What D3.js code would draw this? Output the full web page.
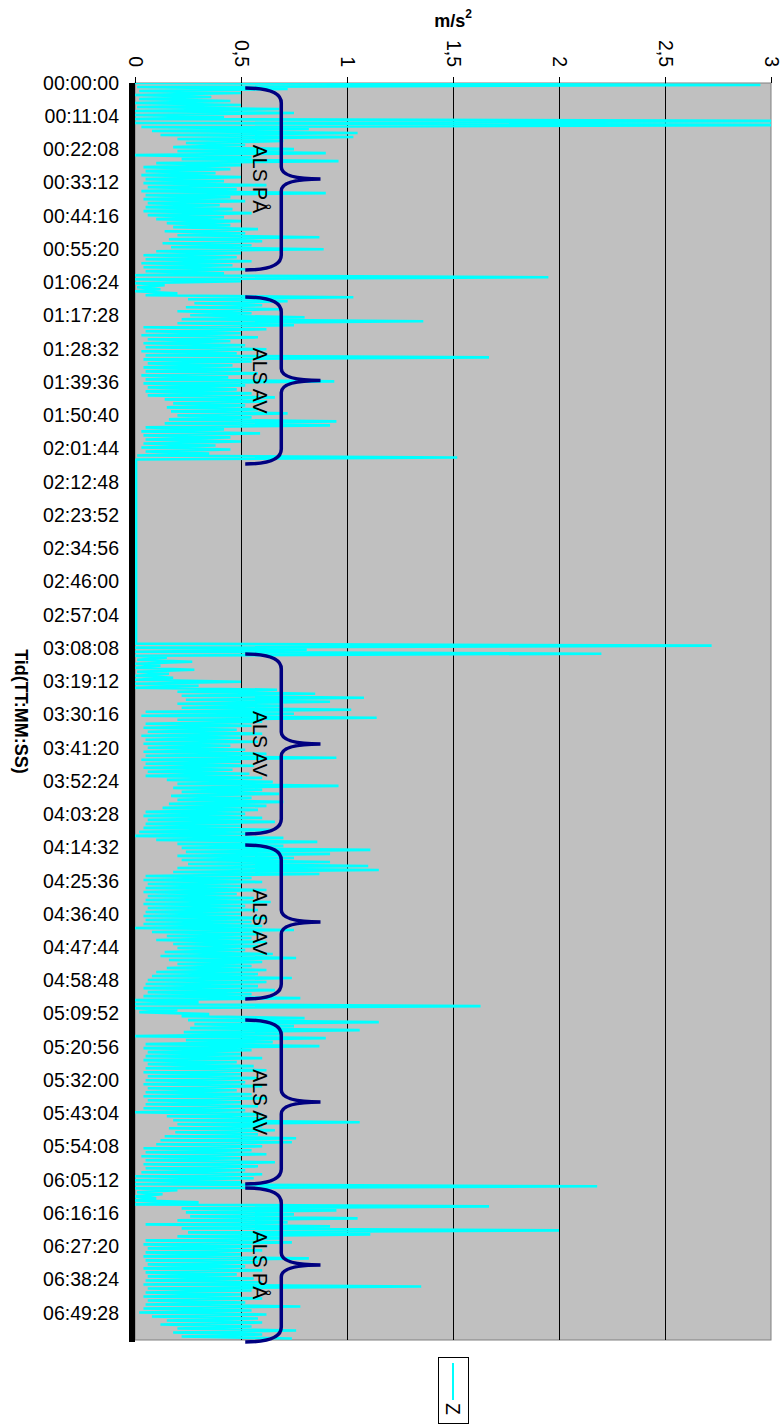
<!DOCTYPE html>
<html>
<head>
<meta charset="utf-8">
<script src="https://cdn.jsdelivr.net/npm/d3@7"></script>
<style>
  body { margin: 0; background: #fff; }
  svg { display: block; font-family: "Liberation Sans", Arial, sans-serif; }
</style>
</head>
<body>
<div id="chart"></div>
<script>
// Z readings in m/s2, one every sampleSeconds (low / high alternate)
const sampleSeconds = 40;
const zValues = [
  // 00:00 - 00:12
  0.0,2.95, 0.01,0.72, 0.02,0.5, 0.0,0.36, 0.02,0.45, 0.0,0.5, 0.01,0.68, 0.0,0.75, 0.0,0.42,
  0.0,3.2, 0.0,3.2, 0.03,0.82, 0.08,1.05, 0.12,1.03, 0.2,0.7, 0.24,0.52, 0.18,0.75, 0.2,0.9, 0.0,0.55, 0.22,0.96, 0.1,0.5,
  0.04,0.45, 0.05,0.38, 0.03,0.5, 0.05,0.42, 0.04,0.62, 0.06,0.48, 0.03,0.9, 0.05,0.45, 0.04,0.52, 0.06,0.4, 0.05,0.46, 0.04,0.55, 0.06,0.42,
  0.1,0.5, 0.15,0.45, 0.18,0.58, 0.14,0.52, 0.2,0.87, 0.16,0.6, 0.13,0.55, 0.17,0.89, 0.1,0.5,
  0.04,0.48, 0.05,0.55, 0.03,0.46, 0.04,0.52, 0.05,0.42, 0.0,1.95,
  0.0,0.5, 0.0,0.14, 0.01,0.12, 0.0,0.2, 0.05,1.03,
  // 01:10 - 02:10
  0.25,0.72, 0.28,0.6, 0.24,0.68, 0.2,0.55, 0.26,0.8, 0.22,1.36, 0.2,0.75,
  0.04,0.62, 0.05,0.5, 0.03,0.58, 0.06,0.45, 0.04,0.52, 0.05,0.62, 0.03,0.48, 0.05,1.67, 0.04,0.55,
  0.06,0.46, 0.04,0.5, 0.05,0.58, 0.03,0.44, 0.05,0.94, 0.04,0.52, 0.06,0.48, 0.05,0.55,
  0.06,0.66, 0.14,0.62, 0.18,0.52, 0.15,0.58, 0.17,0.72, 0.2,0.55, 0.16,0.95, 0.14,0.92,
  0.05,0.42, 0.03,0.59, 0.04,0.45, 0.05,0.5, 0.04,0.38, 0.03,0.45, 0.05,0.35, 0.01,1.52,
  // standstill
  0.005,0.005, 0.005,0.005, 0.005,0.005, 0.005,0.005, 0.005,0.005, 0.005,0.005, 0.005,0.005, 0.005,0.005,
  0.005,0.005, 0.005,0.005, 0.005,0.005, 0.005,0.005, 0.005,0.005, 0.005,0.005, 0.005,0.005, 0.005,0.005,
  0.005,0.005, 0.005,0.005, 0.005,0.005, 0.005,0.005, 0.005,0.005, 0.005,0.005, 0.005,0.005, 0.005,0.005,
  0.005,0.005, 0.005,0.005, 0.005,0.005, 0.005,0.005, 0.005,0.005, 0.005,0.005, 0.005,0.005, 0.005,0.005,
  0.005,0.005, 0.005,0.005, 0.005,0.005, 0.005,0.005, 0.005,0.005, 0.005,0.005, 0.005,0.005, 0.005,0.005,
  0.005,0.005, 0.005,0.005, 0.005,0.005, 0.005,0.005, 0.005,0.005, 0.005,0.005,
  // 03:08 -
  0.0,2.72, 0.0,0.81, 0.0,2.2,
  0.0,0.15, 0.01,0.27, 0.0,0.12, 0.0,0.28, 0.01,0.16, 0.0,0.18, 0.0,0.5, 0.0,0.3, 0.0,0.67,
  0.2,0.85, 0.22,1.08, 0.24,0.92, 0.2,0.7, 0.22,1.02, 0.05,0.75, 0.03,1.14, 0.2,0.6,
  0.05,0.55, 0.04,0.48, 0.06,0.6, 0.03,0.5, 0.05,0.58, 0.04,0.45, 0.06,0.52, 0.04,0.62, 0.05,0.95, 0.03,0.5, 0.05,0.56, 0.04,0.46, 0.06,0.54, 0.05,0.6,
  0.15,0.65, 0.2,0.96, 0.18,0.6, 0.22,0.68, 0.17,0.55, 0.2,0.7, 0.16,0.62, 0.13,0.58,
  0.05,0.52, 0.04,0.6, 0.06,0.66, 0.05,0.5, 0.04,0.64, 0.02,0.55, 0.0,0.7,
  // 04:12 -
  0.1,0.86, 0.2,0.7, 0.22,1.11, 0.24,0.92, 0.2,0.75, 0.22,0.92, 0.25,1.1, 0.2,1.15, 0.18,0.87,
  0.05,0.55, 0.04,0.6, 0.06,0.5, 0.05,0.62, 0.04,0.48, 0.06,0.56, 0.05,0.64, 0.04,0.52, 0.06,0.58, 0.05,0.5, 0.04,0.62, 0.05,0.55, 0.04,0.6, 0.0,0.75,
  0.08,0.6, 0.15,0.55, 0.1,0.62, 0.18,0.58, 0.2,0.52, 0.14,0.65, 0.12,0.76, 0.16,0.6, 0.2,0.55, 0.15,0.62, 0.1,0.58, 0.08,0.74, 0.06,0.62,
  0.05,0.58, 0.04,0.66, 0.06,0.55, 0.04,0.78,
  0.0,0.3, 0.0,1.63, 0.0,0.2, 0.02,0.35,
  // 05:10 -
  0.22,0.8, 0.25,1.15, 0.28,0.75, 0.26,1.06, 0.23,0.7, 0.0,0.9, 0.24,0.65,
  0.05,0.87, 0.04,0.55, 0.06,0.5, 0.05,0.6, 0.04,0.48, 0.06,0.56, 0.05,0.62, 0.04,0.5, 0.06,0.58,
  0.05,0.52, 0.04,0.6, 0.06,0.48, 0.05,0.55, 0.04,0.62, 0.06,0.5, 0.05,0.58, 0.04,0.52, 0.0,0.6,
  0.15,0.62, 0.18,1.06, 0.2,0.6, 0.16,0.66, 0.19,0.58, 0.14,0.76, 0.12,0.74, 0.1,0.6,
  0.04,0.55, 0.05,0.62, 0.03,0.5, 0.05,0.66, 0.04,0.58, 0.05,0.52, 0.03,0.6, 0.0,0.56,
  0.0,0.5, 0.0,2.18, 0.0,0.2, 0.01,0.13, 0.0,0.1, 0.0,0.3, 0.0,1.67,
  // 06:12 -
  0.22,0.95, 0.24,0.75, 0.26,1.05, 0.2,0.72, 0.05,0.92, 0.22,2.0, 0.25,1.11, 0.2,0.7,
  0.05,0.74, 0.04,0.55, 0.06,0.6, 0.05,0.5, 0.04,0.82, 0.05,0.58, 0.06,0.52, 0.04,0.6, 0.05,0.48,
  0.06,0.56, 0.05,0.6, 0.04,1.35, 0.06,0.55, 0.05,0.5, 0.04,0.6, 0.06,0.52, 0.05,0.78,
  0.04,0.55, 0.02,0.62, 0.08,0.58, 0.15,0.6, 0.12,0.55, 0.2,0.76, 0.18,0.6, 0.22,0.74
];
const timeEndSeconds = 25110;

const timeTickLabels = [
  "00:00:00","00:11:04","00:22:08","00:33:12","00:44:16","00:55:20","01:06:24","01:17:28",
  "01:28:32","01:39:36","01:50:40","02:01:44","02:12:48","02:23:52","02:34:56","02:46:00",
  "02:57:04","03:08:08","03:19:12","03:30:16","03:41:20","03:52:24","04:03:28","04:14:32",
  "04:25:36","04:36:40","04:47:44","04:58:48","05:09:52","05:20:56","05:32:00","05:43:04",
  "05:54:08","06:05:12","06:16:16","06:27:20","06:38:24","06:49:28"
];
const valueTicks = [0, 0.5, 1, 1.5, 2, 2.5, 3];
const valueTickLabels = ["0", "0,5", "1", "1,5", "2", "2,5", "3"];

// brace spans in seconds
const braceStart = [100, 4275, 11406, 15222, 18718, 22073];
const braceEnd = [3735, 7611, 15002, 18298, 21994, 25150];
const braceLabels = ["ALS PÅ", "ALS AV", "ALS AV", "ALS AV", "ALS AV", "ALS PÅ"];

function toSeconds(s) {
  const p = s.split(":").map(Number);
  return p[0] * 3600 + p[1] * 60 + p[2];
}

const width = 782, height = 1427;
const plotLeft = 135, plotRight = 771, plotTop = 83, plotBottom = 1340;

const svg = d3.select("#chart").append("svg")
  .attr("width", width)
  .attr("height", height);

const x = d3.scaleLinear().domain([0, 3]).range([plotLeft, plotRight]);
const y = d3.scaleLinear().domain([0, timeEndSeconds]).range([plotTop, plotBottom]);

// plot area
svg.append("rect")
  .attr("x", plotLeft).attr("y", plotTop)
  .attr("width", plotRight - plotLeft).attr("height", plotBottom - plotTop)
  .attr("fill", "#c0c0c0")
  .attr("stroke", "#808080");

svg.append("clipPath").attr("id", "plotclip")
  .append("rect")
  .attr("x", plotLeft).attr("y", plotTop)
  .attr("width", plotRight - plotLeft).attr("height", plotBottom - plotTop);

// grid lines
svg.append("g")
  .selectAll("line")
  .data(valueTicks.filter(d => d > 0 && d < 3))
  .enter().append("line")
    .attr("x1", d => Math.round(x(d)) + 0.5)
    .attr("x2", d => Math.round(x(d)) + 0.5)
    .attr("y1", plotTop)
    .attr("y2", plotBottom)
    .attr("stroke", "#000")
    .attr("stroke-width", 1);

// the Z series
const line = d3.line()
  .x(d => x(d))
  .y((d, i) => y(i * sampleSeconds));

svg.append("path")
  .datum(zValues)
  .attr("clip-path", "url(#plotclip)")
  .attr("fill", "none")
  .attr("stroke", "#00ffff")
  .attr("stroke-width", 2.6)
  .attr("stroke-linejoin", "bevel")
  .attr("d", line);

// value axis on top, labels turned
const gx = svg.append("g")
  .attr("transform", "translate(0," + plotTop + ")")
  .call(d3.axisTop(x)
    .tickValues(valueTicks)
    .tickFormat((d, i) => valueTickLabels[i])
    .tickSize(6));
gx.select(".domain").remove();
gx.attr("font-size", 19.5).attr("font-family", null);
gx.selectAll("text")
  .attr("x", 0).attr("y", 0)
  .attr("dy", "0.35em")
  .attr("text-anchor", "end")
  .attr("transform", "translate(0,-16) rotate(90)");

// time axis on the left
const gy = svg.append("g")
  .attr("transform", "translate(132,0)")
  .call(d3.axisLeft(y)
    .tickValues(timeTickLabels.map(toSeconds))
    .tickFormat((d, i) => timeTickLabels[i])
    .tickSizeInner(0)
    .tickSizeOuter(0)
    .tickPadding(13));
gy.attr("font-size", 19.5).attr("font-family", null);
gy.select(".domain")
  .attr("stroke-width", 6)
  .attr("d", "M0," + plotTop + "V" + (plotBottom + 2));

// braces
const braceEndX = x(0.52), braceMidX = x(0.69), braceTipX = x(0.875);
braceStart.forEach((s, i) => {
  const y0 = y(s), y1 = y(braceEnd[i]), ym = (y0 + y1) / 2;
  const p = d3.path();
  p.moveTo(braceEndX, y0);
  p.quadraticCurveTo(braceMidX, y0, braceMidX, y0 + 15);
  p.lineTo(braceMidX, ym - 12);
  p.quadraticCurveTo(braceMidX, ym, braceTipX, ym);
  p.quadraticCurveTo(braceMidX, ym, braceMidX, ym + 12);
  p.lineTo(braceMidX, y1 - 15);
  p.quadraticCurveTo(braceMidX, y1, braceEndX, y1);
  svg.append("path")
    .attr("d", p.toString())
    .attr("fill", "none")
    .attr("stroke", "#000080")
    .attr("stroke-width", 3.5);

  svg.append("text")
    .attr("transform", "translate(" + x(0.59) + "," + ym + ") rotate(90)")
    .attr("text-anchor", "middle")
    .attr("dy", "0.35em")
    .attr("font-size", 19.5)
    .text(braceLabels[i]);
});

// axis titles
const unit = svg.append("text")
  .attr("x", (plotLeft + plotRight) / 2)
  .attr("y", 27)
  .attr("text-anchor", "middle")
  .attr("font-size", 18)
  .attr("font-weight", "bold");
unit.append("tspan").text("m/s");
unit.append("tspan").attr("font-size", 12).attr("dy", -9).text("2");

svg.append("text")
  .attr("transform", "translate(21," + (plotTop + plotBottom) / 2 + ") rotate(90)")
  .attr("text-anchor", "middle")
  .attr("dy", "0.35em")
  .attr("font-size", 18)
  .attr("font-weight", "bold")
  .text("Tid(TT:MM:SS)");

// legend
const legend = svg.append("g");
legend.append("rect")
  .attr("x", 438.5).attr("y", 1357.5)
  .attr("width", 30).attr("height", 66)
  .attr("fill", "#fff")
  .attr("stroke", "#000");
legend.append("line")
  .attr("x1", 453).attr("x2", 453)
  .attr("y1", 1363).attr("y2", 1400)
  .attr("stroke", "#00ffff")
  .attr("stroke-width", 2);
legend.append("text")
  .attr("transform", "translate(453,1403) rotate(90)")
  .attr("dy", "0.35em")
  .attr("font-size", 19.5)
  .text("Z");
</script>
</body>
</html>
